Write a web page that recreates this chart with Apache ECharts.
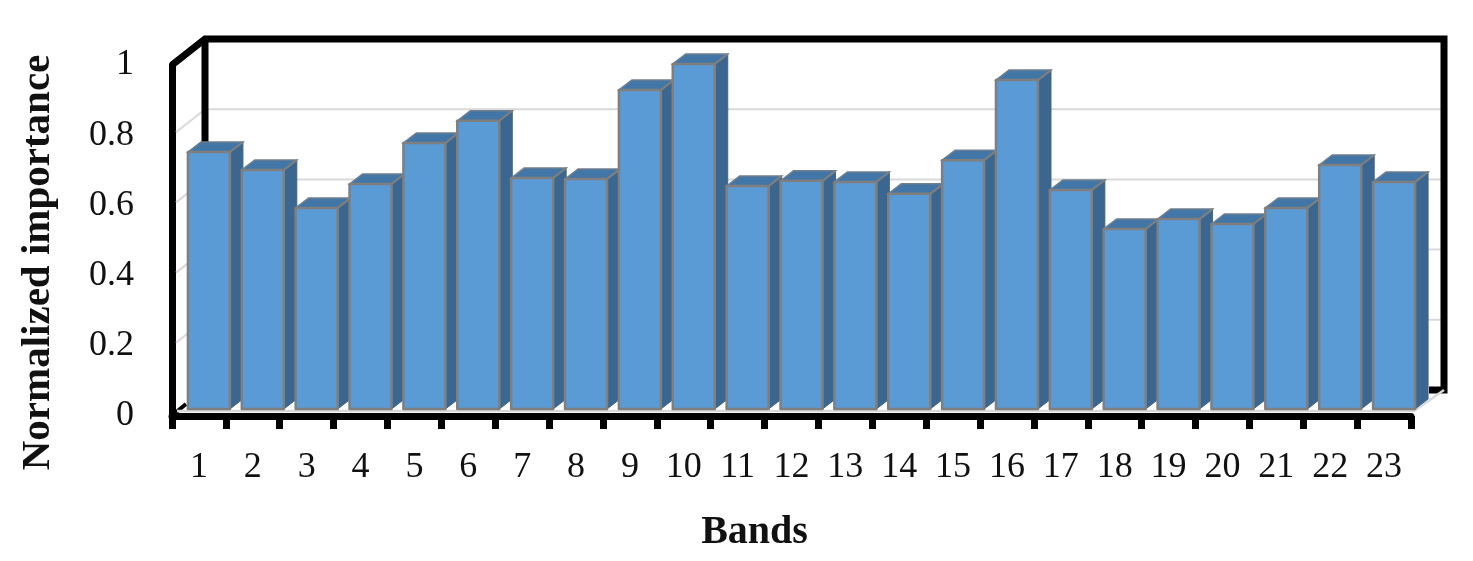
<!DOCTYPE html>
<html><head><meta charset="utf-8">
<style>html,body{margin:0;padding:0;background:#fff}#c{width:1473px;height:561px}</style>
<script src="https://cdn.jsdelivr.net/npm/echarts@6/dist/echarts.min.js"></script>
</head><body><div id="c"></div>
<script>
const bands = ['1','2','3','4','5','6','7','8','9','10','11','12','13','14','15','16','17','18','19','20','21','22','23'];
const importance = [0.732,0.681,0.573,0.641,0.758,0.821,0.658,0.655,0.909,0.983,0.635,0.650,0.647,0.613,0.709,0.937,0.624,0.513,0.541,0.527,0.573,0.695,0.647];
const gridValues = [0.2,0.4,0.6,0.8];
const FONT = '"Liberation Serif", serif';
const WALL = {dx:33, dy:-26};      // depth of the 3D box
const BAR = {dx:10, dy:-7, w:42, ddx:13, ddy:-10};
const chart = echarts.init(document.getElementById('c'), null, {renderer:'canvas'});

function wallLine(params, api){
  const y = api.coord([0, api.value(0)])[1];
  const g = params.coordSys;
  return {type:'polyline', silent:true,
    shape:{points:[[g.x+4, y-3],[g.x+WALL.dx, y+WALL.dy],[g.x+g.width+WALL.dx-2, y+WALL.dy]]},
    style:{fill:'none', stroke:'#d9d9d9', lineWidth:2}};
}
function frame(params, api){
  const g = params.coordSys;
  const top = g.y, bot = g.y+g.height, L = g.x, R = g.x+g.width;
  const bl = {stroke:'#000', lineWidth:7, fill:'none'};
  return {type:'group', silent:true, children:[
    {type:'line', shape:{x1:L+WALL.dx,y1:top+WALL.dy,x2:L+WALL.dx,y2:bot+WALL.dy}, style:bl},
    {type:'polyline', shape:{points:[[L,top],[L+WALL.dx,top+WALL.dy],[R+WALL.dx,top+WALL.dy],[R+WALL.dx,bot+WALL.dy],[R+18,bot+WALL.dy]]}, style:Object.assign({lineJoin:'miter'},bl)},
    {type:'line', shape:{x1:L+2,y1:bot-2,x2:L+14,y2:bot-12}, style:{stroke:'#000',lineWidth:4}},
    {type:'polyline', shape:{points:[[L+5,bot-5],[R+3,bot-5],[R+WALL.dx,bot+WALL.dy]]}, style:{fill:'none',stroke:'#d9d9d9',lineWidth:2.5}}
  ]};
}
function bar3d(params, api){
  const p = api.coord([api.value(0), api.value(1)]);
  const b = api.coord([api.value(0), 0]);
  const x0 = p[0]+BAR.dx-BAR.w/2, x1 = x0+BAR.w;
  const yT = p[1]+BAR.dy, yB = b[1]+BAR.dy;
  const e = {stroke:'#7f7f7f', lineWidth:2.5, lineJoin:'round'};
  return {type:'group', silent:true, children:[
    {type:'polygon', shape:{points:[[x1,yT],[x1+BAR.ddx,yT+BAR.ddy],[x1+BAR.ddx,yB+BAR.ddy],[x1,yB]]},
      style:{fill:'#3a668f', stroke:'#3a668f', lineWidth:1}},
    {type:'polygon', shape:{points:[[x0,yT],[x0+BAR.ddx,yT+BAR.ddy],[x1+BAR.ddx,yT+BAR.ddy],[x1,yT]]},
      style:{fill:'#4176a6', stroke:'#6f7f8f', lineWidth:1.5}},
    {type:'line', shape:{x1:x1,y1:yT,x2:x1+BAR.ddx,y2:yT+BAR.ddy}, style:{stroke:'#7f7f7f',lineWidth:2}},
    {type:'rect', shape:{x:x0,y:yT,width:BAR.w,height:yB-yT}, style:Object.assign({fill:'#5b9bd5'},e)}
  ]};
}
chart.setOption({
  animation:false, backgroundColor:'#fff',
  grid:{left:172, top:65, width:1239, height:351, containLabel:false},
  xAxis:{type:'category', data:bands, boundaryGap:true,
    name:'Bands', nameLocation:'middle', nameGap:97,
    nameTextStyle:{fontFamily:FONT, fontWeight:'bold', fontSize:40, color:'#111', padding:[0,74,0,0]},
    axisLine:{show:true, lineStyle:{color:'#000', width:7}},
    axisTick:{show:true, alignWithLabel:false, length:13, lineStyle:{color:'#000', width:7}},
    axisLabel:{fontFamily:FONT, fontSize:36, color:'#111', margin:34, interval:0},
    splitLine:{show:false}},
  yAxis:{type:'value', min:0, max:1, interval:0.2,
    name:'Normalized importance', nameLocation:'middle', nameGap:113,
    nameTextStyle:{fontFamily:FONT, fontWeight:'bold', fontSize:41, color:'#111', padding:[0,44,0,0]},
    axisLine:{show:true, onZero:false, lineStyle:{color:'#000', width:7}},
    axisTick:{show:false},
    axisLabel:{fontFamily:FONT, fontSize:36, color:'#111', margin:38, padding:[10,0,0,0],
      formatter:v=>String(+v.toFixed(1))},
    splitLine:{show:false}},
  series:[
    {type:'custom', name:'wall grid', coordinateSystem:'cartesian2d', clip:false, z:1, renderItem:wallLine, data:gridValues.map(v=>[v]), encode:{x:-1,y:0}},
    {type:'custom', name:'frame', coordinateSystem:'cartesian2d', clip:false, z:1, renderItem:frame, data:[[0,0]]},
    {type:'custom', name:'Normalized importance', coordinateSystem:'cartesian2d', clip:false, z:3, renderItem:bar3d,
      encode:{x:0,y:1}, data:importance.map((v,i)=>[i,v])}
  ]
});
</script></body></html>
